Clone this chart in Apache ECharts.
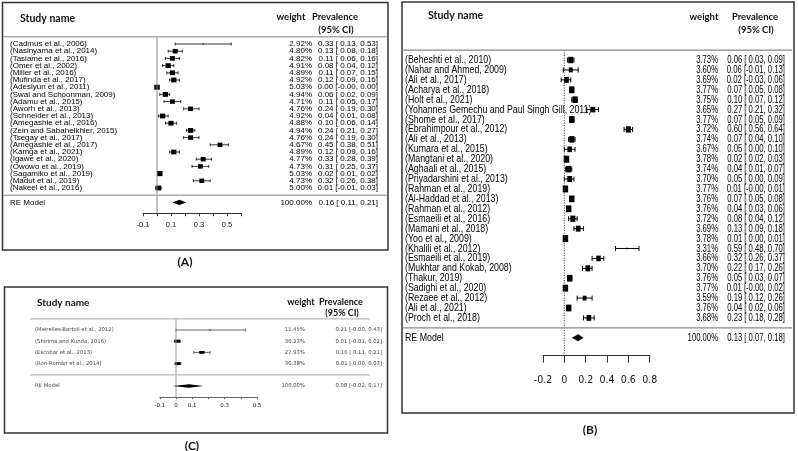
<!DOCTYPE html>
<html><head><meta charset="utf-8">
<script src="https://cdn.jsdelivr.net/npm/echarts@6/dist/echarts.min.js"></script>
<style>html,body{margin:0;padding:0;background:#fff}#c{width:798px;height:451px}</style>
</head><body><div id="c"></div>
<script>
// ---------------- Panel A ----------------
const studiesA = ["(Cadmus et al., 2006)","(Nasinyama et al., 2014)","(Tasiame et al., 2016)","(Omer et al., 2002)","(Miller et al., 2016)","(Mufinda et al., 2017)","(Adesiyun et al., 2011)","(Swai and Schoonman, 2009)","(Adamu et al., 2015)","(Aworh et al., 2013)","(Schneider et al., 2013)","(Amegashie et al., 2016)","(Zein and Sabahelkhier, 2015)","(Tsegay et al., 2017)","(Amegashie et al., 2017)","(Kamga et al., 2021)","(Igawe et al., 2020)","(Owowo et al., 2019)","(Sagamiko et al., 2019)","(Madut et al., 2019)","(Nakeel et al., 2016)"];
const weightsA = [2.92,4.80,4.82,4.91,4.89,4.92,5.03,4.94,4.71,4.76,4.92,4.88,4.94,4.76,4.67,4.89,4.77,4.73,5.03,4.73,5.00];
const estA = [0.33,0.13,0.11,0.08,0.11,0.12,0.00,0.06,0.11,0.24,0.04,0.10,0.24,0.24,0.45,0.12,0.33,0.31,0.02,0.32,0.01];
const loA  = [0.13,0.08,0.06,0.04,0.07,0.09,-0,0.02,0.05,0.19,0.01,0.06,0.21,0.19,0.38,0.09,0.28,0.25,0.01,0.26,-0.01];
const hiA  = [0.53,0.18,0.16,0.12,0.15,0.16,0.00,0.09,0.17,0.30,0.08,0.14,0.27,0.30,0.51,0.16,0.39,0.37,0.02,0.38,0.03];
const pooledA = [0.16, 0.11, 0.21];
const tickLabelsA = ["-0.1","0.1","0.3","0.5"];

// ---------------- Panel B ----------------
const studiesB = ["(Beheshti et al., 2010)","(Nahar and Ahmed, 2009)","(Ali et al., 2017)","(Acharya et al., 2018)","(Holt et al., 2021)","(Yohannes Gemechu and Paul Singh Gill, 2011)","(Shome et al., 2017)","(Ebrahimpour et al., 2012)","(Ali et al., 2013)","(Kumara et al., 2015)","(Mangtani et al., 2020)","(Aghaali et al., 2015)","(Priyadarshini et al., 2013)","(Rahman et al., 2019)","(Al-Haddad et al., 2013)","(Rahman et al., 2012)","(Esmaeili et al., 2016)","(Mamani et al., 2018)","(Yoo et al., 2009)","(Khalili et al., 2012)","(Esmaeili et al., 2019)","(Mukhtar and Kokab, 2008)","(Thakur, 2019)","(Sadighi et al., 2020)","(Rezaee et al., 2012)","(Ali et al., 2021)","(Proch et al., 2018)"];
const weightsB = [3.73,3.60,3.69,3.77,3.75,3.65,3.77,3.72,3.74,3.67,3.78,3.74,3.70,3.77,3.76,3.76,3.72,3.69,3.78,3.31,3.66,3.70,3.76,3.77,3.59,3.76,3.68];
const estB = [0.06,0.06,0.02,0.07,0.10,0.27,0.07,0.60,0.07,0.05,0.02,0.04,0.05,0.01,0.07,0.04,0.08,0.13,0.01,0.59,0.32,0.22,0.05,0.01,0.19,0.04,0.23];
const loB  = [0.03,-0.01,-0.03,0.05,0.07,0.21,0.05,0.56,0.04,0.00,0.02,0.01,0.00,-0,0.05,0.03,0.04,0.09,0.00,0.48,0.26,0.17,0.03,-0,0.12,0.02,0.18];
const hiB  = [0.09,0.13,0.06,0.08,0.12,0.32,0.09,0.64,0.10,0.10,0.03,0.07,0.09,0.01,0.08,0.06,0.12,0.18,0.01,0.70,0.37,0.26,0.07,0.02,0.26,0.06,0.28];
const pooledB = [0.13, 0.07, 0.18];
const tickLabelsB = ["-0.2","0","0.2","0.4","0.6","0.8"];

// ---------------- Panel C ----------------
const studiesC = ["(Meirelles-Bartoli et al., 2012)","(Shirima and Kunda, 2016)","(Escobar et al., 2013)","(Ron-Román et al., 2014)"];
const weightsC = [11.45,30.23,27.93,30.38];
const estC = [0.21,0.01,0.16,0.01];
const loC  = [-0,-0.01,0.11,0.00];
const hiC  = [0.43,0.02,0.21,0.03];
const pooledC = [0.08, -0.02, 0.17];
const tickLabelsC = ["-0.1","0","0.1","0.3","0.5"];

const HDR = 'Lato, "Open Sans", sans-serif';
const ARIAL = '"Liberation Sans", Arial, sans-serif';
const DEJA = '"DejaVu Sans", Verdana, sans-serif';

const panels = [
  { studies: studiesA, weights: weightsA, est: estA, lo: loA, hi: hiA, pooled: pooledA, ticks: tickLabelsA,
    grid: {left: 143, top: 36.8, width: 98, height: 176.4}, xMin: -0.1, xMax: 0.6, interval: 0.1, yMax: 23.5,
    box: [2.5, 2.5, 385.5, 247.5], sepX: [3, 387], sepColor: '#aaa', sepW: 1.6, refColor: '#888', refDash: null,
    labelX: 10, weightX: 312, prevX: 378, rowFont: '8px ' + ARIAL, rowFill: '#000', labelScale: 1, numScale: 1,
    sqW: 5.5, sqH: 5, sqMin: 1.2, cap: 1.5, lw: 0.8, diaH: 2.6,
    tickLen: 3, axisFont: 7.5, axisFam: ARIAL, axisMargin: 8, axisColor: '#333',
    hdr: {study: [20, 19, 10.5], weight: [291, 17], prev: [335, 17, 30], size: 9.5},
    tag: ['(A)', 185, 262] },
  { studies: studiesB, weights: weightsB, est: estB, lo: loB, hi: hiB, pooled: pooledB, ticks: tickLabelsB,
    grid: {left: 543, top: 50.1, width: 106.7, height: 305.5}, xMin: -0.2, xMax: 0.8, interval: 0.2, yMax: 29.8,
    box: [402, 2, 392, 411], sepX: [402, 792], sepColor: '#888', sepW: 1.2, refColor: '#333', refDash: [1, 1.5],
    labelX: 405, weightX: 718, prevX: 785, rowFont: '11px ' + ARIAL, rowFill: '#000', labelScale: 0.8, numScale: 0.7,
    sqW: 5.5, sqH: 7, sqMin: 1.5, cap: 2.5, lw: 1, diaH: 3.5,
    tickLen: 7, axisFont: 10.5, axisFam: '"Liberation Sans Narrow", "DejaVu Sans Condensed", ' + ARIAL, axisMargin: 19, axisColor: '#333',
    hdr: {study: [428, 16, 10.5], weight: [704, 17], prev: [755, 17, 30], size: 9.5},
    tag: ['(B)', 590, 430] },
  { studies: studiesC, weights: weightsC, est: estC, lo: loC, hi: hiC, pooled: pooledC, ticks: tickLabelsC,
    grid: {left: 159.8, top: 318.8, width: 97.2, height: 78.4}, xMin: -0.1, xMax: 0.5, interval: 0.1, yMax: 6,
    box: [4.5, 287, 383, 146], sepX: [30, 370], sepColor: '#bbb', sepW: 1.2, refColor: '#999', refDash: null,
    labelX: 35, weightX: 305, prevX: 382, rowFont: '5.3px ' + DEJA, rowFill: '#444', labelScale: 1, numScale: 1,
    sqW: 6, sqH: 3, sqMin: 1.2, cap: 1.5, lw: 0.6, diaH: 1.8,
    tickLen: 2, axisFont: 5.5, axisFam: DEJA, axisMargin: 5, axisColor: '#666',
    hdr: {study: [37, 303, 10], weight: [301, 302], prev: [341, 302, 313], size: 9},
    tag: ['(C)', 192, 446] }
];

function isNeg(v) { return v < 0 || Object.is(v, -0); }
function f2(v) { return Math.abs(v).toFixed(2); }
function prevText(e, l, h) {
  return (isNeg(e) ? '-' : '') + f2(e) + ' [' + (isNeg(l) ? '-' : ' ') + f2(l) + ', ' + (isNeg(h) ? '-' : '') + f2(h) + ']';
}
function txt(x, y, s, align, font, fill, sx) {
  return { type: 'text', x: x, y: y, scaleX: sx || 1,
    style: { x: 0, y: 0, text: s, font: font, fill: fill, align: align, verticalAlign: 'middle',
             textAlign: align, textVerticalAlign: 'middle' } };
}
function seg(x1, y1, x2, y2, color, w, dash) {
  const st = { stroke: color, lineWidth: w };
  if (dash) st.lineDash = dash;
  return { type: 'line', shape: { x1, y1, x2, y2 }, style: st };
}

const grids = [], xAxes = [], yAxes = [], series = [], graphics = [];

panels.forEach((p, pi) => {
  grids.push(Object.assign({}, p.grid));
  const tickSet = p.ticks;
  xAxes.push({
    gridIndex: pi, type: 'value', min: p.xMin, max: p.xMax, interval: p.interval, position: 'bottom',
    axisLine: { show: true, onZero: false, lineStyle: { color: p.axisColor, width: 1 } },
    axisTick: { show: true, length: p.tickLen, lineStyle: { color: p.axisColor, width: 1 } },
    splitLine: { show: false },
    axisLabel: {
      margin: p.axisMargin, fontSize: p.axisFont, fontFamily: p.axisFam, color: '#111',
      formatter: function (v) {
        const s = (Math.round(v * 10) / 10).toString();
        return tickSet.indexOf(s) >= 0 ? s : '';
      }
    }
  });
  yAxes.push({ gridIndex: pi, type: 'value', inverse: true, min: -1, max: p.yMax, show: false });

  const wMin = Math.min.apply(null, p.weights), wMax = Math.max.apply(null, p.weights);
  const k = p.studies.length;

  // study rows
  series.push({
    type: 'custom', xAxisIndex: pi, yAxisIndex: pi, silent: true, animation: false, clip: false,
    data: p.studies.map((_, i) => [p.est[i], i, p.lo[i], p.hi[i], p.weights[i]]),
    renderItem: function (params, api) {
      const i = params.dataIndex;
      const c = api.coord([p.est[i], i]);
      const cl = api.coord([p.lo[i], i]);
      const ch = api.coord([p.hi[i], i]);
      const y = c[1];
      const t = (p.weights[i] - wMin) / (wMax - wMin);
      const sw = p.sqMin + t * (p.sqW - p.sqMin);
      const sh = p.sqMin + t * (p.sqH - p.sqMin);
      return { type: 'group', children: [
        seg(cl[0], y, ch[0], y, '#000', p.lw),
        seg(cl[0], y - p.cap, cl[0], y + p.cap, '#000', p.lw),
        seg(ch[0], y - p.cap, ch[0], y + p.cap, '#000', p.lw),
        { type: 'rect', shape: { x: c[0] - sw / 2, y: y - sh / 2, width: sw, height: sh }, style: { fill: '#000' } },
        txt(p.labelX, y, p.studies[i], 'left', p.rowFont, p.rowFill, p.labelScale),
        txt(p.weightX, y, p.weights[i].toFixed(2) + '%', 'right', p.rowFont, p.rowFill, p.numScale),
        txt(p.prevX, y, prevText(p.est[i], p.lo[i], p.hi[i]), 'right', p.rowFont, p.rowFill, p.numScale)
      ] };
    }
  });

  // pooled estimate, separators, reference line
  series.push({
    type: 'custom', xAxisIndex: pi, yAxisIndex: pi, silent: true, animation: false, clip: false,
    data: [[p.pooled[0], k + 1, p.pooled[1], p.pooled[2]]],
    renderItem: function (params, api) {
      const rowY = api.coord([0, k + 1])[1];
      const c = api.coord([p.pooled[0], k + 1]);
      const cl = api.coord([p.pooled[1], k + 1]);
      const ch = api.coord([p.pooled[2], k + 1]);
      const topY = api.coord([0, -1])[1];
      const lineY = api.coord([0, k])[1];
      const axisY = api.coord([0, p.yMax])[1];
      const zx = api.coord([0, 0])[0];
      return { type: 'group', children: [
        seg(zx, topY, zx, axisY, p.refColor, 1, p.refDash),
        seg(p.sepX[0], topY, p.sepX[1], topY, p.sepColor, p.sepW),
        seg(p.sepX[0], lineY, p.sepX[1], lineY, p.sepColor, p.sepW),
        { type: 'polygon', shape: { points: [[cl[0], rowY], [c[0], rowY - p.diaH], [ch[0], rowY], [c[0], rowY + p.diaH]] },
          style: { fill: '#000' } },
        txt(p.labelX, rowY, 'RE Model', 'left', p.rowFont, p.rowFill, p.labelScale),
        txt(p.weightX, rowY, '100.00%', 'right', p.rowFont, p.rowFill, p.numScale),
        txt(p.prevX, rowY, prevText(p.pooled[0], p.pooled[1], p.pooled[2]), 'right', p.rowFont, p.rowFill, p.numScale)
      ] };
    }
  });

  // frame and headers
  graphics.push({ type: 'rect', shape: { x: p.box[0], y: p.box[1], width: p.box[2], height: p.box[3] },
    style: { fill: 'none', stroke: '#333', lineWidth: 1.5 }, silent: true });
  const h = p.hdr;
  const mk = (x, y, s, al, size) => ({ type: 'text', x: x, y: y, silent: true,
    style: { x: 0, y: 0, text: s, font: 'bold ' + size + 'px ' + HDR, fill: '#111', align: al, verticalAlign: 'middle',
             textAlign: al, textVerticalAlign: 'middle' } });
  graphics.push(mk(h.study[0], h.study[1], 'Study name', 'left', h.study[2]));
  graphics.push(mk(h.weight[0], h.weight[1], 'weight', 'center', h.size));
  graphics.push(mk(h.prev[0], h.prev[1], 'Prevalence', 'center', h.size));
  graphics.push(mk(h.prev[0] + 1, h.prev[2], '(95% CI)', 'center', h.size));
  graphics.push(mk(p.tag[1], p.tag[2], p.tag[0], 'center', 12));
});

const chart = echarts.init(document.getElementById('c'), null, { renderer: 'canvas' });
chart.setOption({
  backgroundColor: '#fff',
  animation: false,
  grid: grids,
  xAxis: xAxes,
  yAxis: yAxes,
  series: series,
  graphic: graphics
});
</script></body></html>
